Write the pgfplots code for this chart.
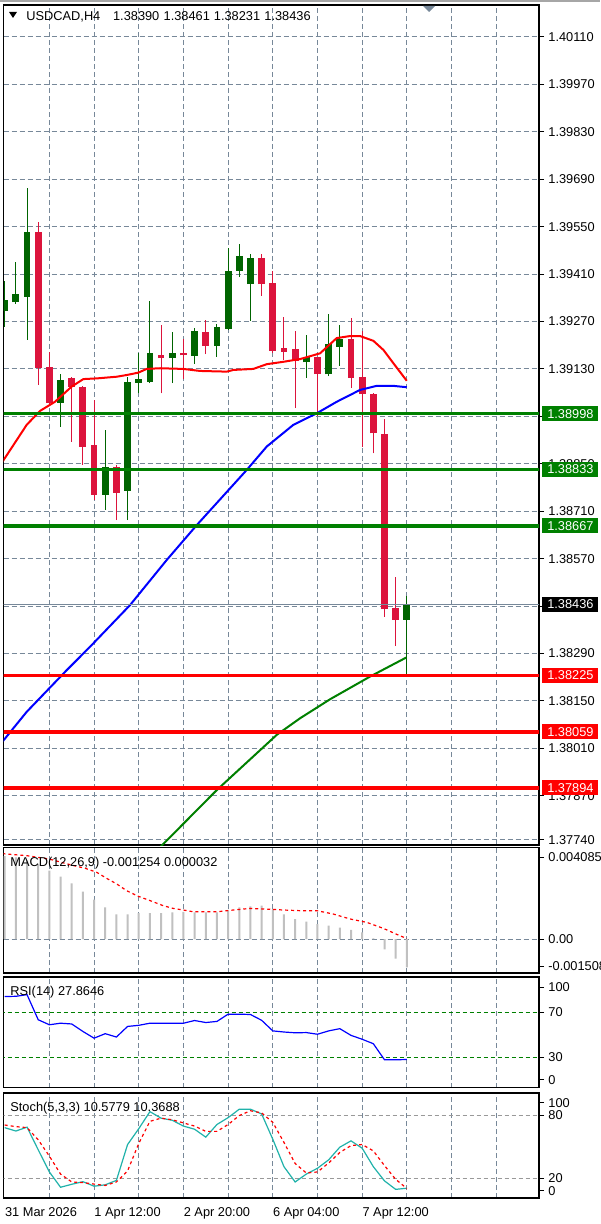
\documentclass[border=0pt]{standalone}
\usepackage{fontspec}
\setmainfont{Liberation Sans}
\usepackage{pgfplots}
\usepackage{pgfplotstable}
\pgfplotsset{compat=1.18}

\newcommand{\mtfont}{\fontsize{6.4pt}{7.6pt}\selectfont}

\definecolor{mtgrid}{RGB}{119,136,153}
\definecolor{bull}{RGB}{0,100,0}
\definecolor{bear}{RGB}{220,20,60}
\definecolor{lvlgreen}{RGB}{0,128,0}
\definecolor{histo}{RGB}{192,192,192}
\definecolor{stochmain}{RGB}{32,178,170}

% candles: bar index, open, high, low, close
\pgfplotstableread{
i o h l c
0 1.39302 1.39388 1.39255 1.39334
1 1.39327 1.39445 1.39322 1.39350
2 1.39343 1.39663 1.39216 1.39535
5 1.39030 1.39115 1.38960 1.39097
9 1.38758 1.38950 1.38714 1.38842
11 1.38771 1.39107 1.38684 1.39090
12 1.39088 1.39176 1.39058 1.39100
13 1.39091 1.39329 1.39088 1.39176
15 1.39162 1.39240 1.39088 1.39176
17 1.39169 1.39250 1.39145 1.39242
19 1.39199 1.39263 1.39166 1.39255
20 1.39248 1.39488 1.39245 1.39420
21 1.39420 1.39499 1.39401 1.39462
22 1.39380 1.39469 1.39272 1.39457
27 1.39149 1.39230 1.39104 1.39166
29 1.39114 1.39292 1.39109 1.39203
30 1.39196 1.39260 1.39140 1.39219
36 1.38390 1.38461 1.38231 1.38436
}\bulls

\pgfplotstableread{
i o h l c
3 1.39535 1.39565 1.39083 1.39132
4 1.39137 1.39181 1.39025 1.39030
6 1.39102 1.39107 1.38915 1.39078
7 1.39078 1.39080 1.38847 1.38901
8 1.38906 1.39038 1.38743 1.38758
10 1.38842 1.38845 1.38684 1.38765
14 1.39171 1.39260 1.39058 1.39162
16 1.39177 1.39218 1.39100 1.39170
18 1.39238 1.39275 1.39174 1.39199
23 1.39457 1.39469 1.39346 1.39380
24 1.39383 1.39420 1.39176 1.39184
25 1.39193 1.39284 1.39157 1.39181
26 1.39189 1.39242 1.39014 1.39154
28 1.39164 1.39166 1.38991 1.39115
31 1.39219 1.39280 1.39075 1.39104
32 1.39107 1.39242 1.38899 1.39055
33 1.39056 1.39060 1.38881 1.38940
34 1.38938 1.38981 1.38399 1.38421
35 1.38424 1.38517 1.38312 1.38390
}\bears

% moving averages
\pgfplotstableread{
i p
-0.2 1.38856
1.97 1.38965
3.16 1.39006
4.50 1.39033
6.00 1.39078
7.04 1.39100
8.24 1.39102
10.03 1.39107
10.92 1.39112
11.96 1.39119
12.71 1.39130
13.90 1.39132
15.99 1.39130
17.48 1.39124
19.87 1.39122
20.47 1.39127
22.26 1.39130
23.46 1.39144
24.94 1.39151
26.44 1.39159
28.23 1.39176
29.72 1.39221
30.91 1.39227
31.81 1.39227
33.00 1.39213
33.90 1.39186
34.79 1.39147
35.99 1.39095
}\maRed

\pgfplotstableread{
i p
-0.2 1.38030
1.97 1.38118
5.55 1.38241
7.64 1.38310
11.22 1.38433
14.50 1.38566
17.19 1.38669
21.67 1.38832
23.46 1.38901
25.84 1.38965
27.93 1.38999
29.72 1.39033
31.81 1.39068
33.30 1.39080
34.79 1.39080
35.99 1.39076
}\maBlue

\pgfplotstableread{
i p
13.01 1.37690
14.20 1.37728
18.98 1.37887
24.35 1.38050
26.44 1.38099
29.12 1.38155
32.70 1.38222
35.93 1.38278
}\maGreen

% indicators per bar: MACD main, RSI, stochastic main and signal
\pgfplotstableread{
i m rsi k d
0 0.00370 84.3 68.0 70.5
1 0.00365 84.5 64.8 69.0
2 0.00350 86.0 68.5 68.0
3 0.00335 63.5 47.0 56.5
4 0.00306 59.0 26.0 41.0
5 0.00279 60.4 11.5 24.0
6 0.00249 59.7 14.3 16.5
7 0.00212 53.0 16.8 15.9
8 0.00176 47.0 12.5 14.5
9 0.00142 51.0 13.8 13.2
10 0.00110 48.0 18.0 16.5
11 0.00110 57.5 52.0 27.0
12 0.00116 58.5 67.0 53.0
13 0.00116 60.4 83.2 74.0
14 0.00116 60.4 77.0 77.0
15 0.00119 60.4 75.0 75.5
16 0.00122 60.4 69.5 72.5
17 0.00119 62.8 66.5 69.5
18 0.00119 61.0 59.0 64.5
19 0.00119 62.0 71.0 64.5
20 0.00127 68.5 77.5 71.0
21 0.00142 68.5 85.5 79.5
22 0.00146 68.2 85.5 84.0
23 0.00149 63.0 81.0 82.0
24 0.00134 53.5 57.0 73.0
25 0.00110 52.5 31.0 54.0
26 0.00089 51.8 16.5 34.0
27 0.00078 52.0 24.0 25.0
28 0.00067 50.5 29.5 26.0
29 0.00060 53.5 37.5 34.5
30 0.00052 55.5 49.5 44.5
31 0.00042 49.5 55.5 51.0
32 0.00030 46.0 48.5 52.0
33 0.00004 42.0 31.0 46.0
34 -0.00045 27.6 17.5 32.0
35 -0.00087 27.6 9.5 19.0
36 -0.001254 27.86 10.58 10.37
}\osc

\pgfplotstableread{
i s
-0.2 0.00381
2 0.00372
4 0.00357
6 0.00330
7.19 0.00316
8.24 0.00298
9.13 0.00271
10.03 0.00246
10.92 0.00216
11.96 0.00191
13.01 0.00172
14.20 0.00149
15.09 0.00137
15.99 0.00130
16.88 0.00122
18.98 0.00122
20.47 0.00130
21.96 0.00137
23.46 0.00134
24.94 0.00130
26.44 0.00127
27.93 0.00127
29.42 0.00112
30.91 0.00090
32.41 0.00075
33.90 0.00048
35.39 0.00015
36 0.000032
}\macdSig

\pgfplotsset{
  mtpanel/.style={
    scale only axis, anchor=north west,
    width=267.75pt,
    xmin=-0.107, xmax=47.83,
    axis line style={black, line width=0.6pt},
    xtick={4,8,...,44}, xticklabels={},
    xmajorgrids, ymajorgrids,
    major grid style={mtgrid, line width=0.5pt, dash pattern=on 2.5pt off 1.5pt},
    xtick style={draw=none},
    ytick pos=right, yticklabel pos=right,
    ytick style={black, line width=0.5pt},
    tick align=outside, major tick length=2.5pt,
    yticklabel style={font=\mtfont, anchor=west, inner sep=0pt, xshift=2pt},
    scaled y ticks=false,
  },
  candle/.style 2 args={draw=none, mark=none, error bars/.cd, y dir=plus, y explicit,
    error mark=none, error bar style={line width=#1, draw=#2}},
}
\tikzset{pbox/.style={anchor=west, font=\mtfont, text=white, inner xsep=2pt,
    inner ysep=0pt, minimum height=7.5pt, minimum width=28pt}}

\begin{document}
\begin{tikzpicture}
\path[use as bounding box] (0pt,0pt) rectangle (300pt,-612pt);
\fill[white] (0pt,0pt) rectangle (300pt,-612pt);
\fill[black!35] (0pt,0pt) rectangle (300pt,-0.9pt);

% ---- price panel
\begin{axis}[mtpanel, at={(1.75pt,-2.5pt)}, height=420pt,
  ymin=1.37725, ymax=1.40204,
  ytick={1.3774,1.3787,1.3801,1.3815,1.3829,1.3843,1.3857,1.3871,1.3885,1.3899,1.3913,1.3927,1.3941,1.3955,1.3969,1.3983,1.3997,1.4011},
  yticklabels={1.37740,1.37870,1.38010,1.38150,1.38290,1.38430,1.38570,1.38710,1.38850,1.38990,1.39130,1.39270,1.39410,1.39550,1.39690,1.39830,1.39970,1.40110},
]
% wicks
\addplot[candle={0.5pt}{bull}]
  table[x=i, y=l, y error expr=\thisrow{h}-\thisrow{l}] {\bulls};
\addplot[candle={0.5pt}{bear}]
  table[x=i, y=l, y error expr=\thisrow{h}-\thisrow{l}] {\bears};
% bodies
\addplot[candle={3.4pt}{bull}]
  table[x=i, y=o, y error expr=\thisrow{c}-\thisrow{o}] {\bulls};
\addplot[candle={3.4pt}{bear}]
  table[x=i, y=c, y error expr=\thisrow{o}-\thisrow{c}] {\bears};
% moving averages
\addplot[red, line width=1pt] table[x=i, y=p] {\maRed};
\addplot[blue, line width=1pt] table[x=i, y=p] {\maBlue};
\addplot[lvlgreen, line width=1pt] table[x=i, y=p] {\maGreen};
% levels
\addplot[mtgrid, line width=0.5pt] coordinates {(-1,1.38436) (49,1.38436)};
\addplot[lvlgreen, line width=1.8pt] coordinates {(-1,1.38998) (49,1.38998)};
\addplot[lvlgreen, line width=1.8pt] coordinates {(-1,1.38833) (49,1.38833)};
\addplot[lvlgreen, line width=1.8pt] coordinates {(-1,1.38667) (49,1.38667)};
\addplot[red, line width=1.8pt] coordinates {(-1,1.38225) (49,1.38225)};
\addplot[red, line width=1.8pt] coordinates {(-1,1.38059) (49,1.38059)};
\addplot[red, line width=1.8pt] coordinates {(-1,1.37894) (49,1.37894)};
\coordinate (g1) at (axis cs:47.83,1.38998);
\coordinate (g2) at (axis cs:47.83,1.38833);
\coordinate (g3) at (axis cs:47.83,1.38667);
\coordinate (bk) at (axis cs:47.83,1.38436);
\coordinate (r1) at (axis cs:47.83,1.38225);
\coordinate (r2) at (axis cs:47.83,1.38059);
\coordinate (r3) at (axis cs:47.83,1.37894);
\end{axis}

\node[pbox, fill=lvlgreen] at ([xshift=1.5pt]g1) {1.38998};
\node[pbox, fill=lvlgreen] at ([xshift=1.5pt]g2) {1.38833};
\node[pbox, fill=lvlgreen] at ([xshift=1.5pt]g3) {1.38667};
\node[pbox, fill=black] at ([xshift=1.5pt]bk) {1.38436};
\node[pbox, fill=red] at ([xshift=1.5pt]r1) {1.38225};
\node[pbox, fill=red] at ([xshift=1.5pt]r2) {1.38059};
\node[pbox, fill=red] at ([xshift=1.5pt]r3) {1.37894};

% ---- MACD panel
\begin{axis}[mtpanel, at={(1.75pt,-423.75pt)}, height=62.75pt,
  ymin=-0.001508, ymax=0.004085,
  ytick={0}, yticklabels={0.00},
  extra y ticks={-0.001196,0.003662}, extra y tick labels={-0.001508,0.004085},
  extra y tick style={grid=none},
]
\addplot[ybar, bar width=1pt, bar shift=0pt, fill=histo, draw=none] table[x=i, y=m] {\osc};
\addplot[red, line width=0.6pt, dash pattern=on 1.5pt off 1.5pt] table[x=i, y=s] {\macdSig};
\end{axis}

% ---- RSI panel
\begin{axis}[mtpanel, at={(1.75pt,-488.5pt)}, height=55.4pt,
  ymin=2.5, ymax=101.8, ymajorgrids=false,
  ytick={30,70}, yticklabels={30,70},
  extra y ticks={9.7,92.8}, extra y tick labels={0,100},
  extra y tick style={grid=none},
]
\addplot[lvlgreen, line width=0.5pt, dash pattern=on 2pt off 1.5pt] coordinates {(-1,70) (49,70)};
\addplot[lvlgreen, line width=0.5pt, dash pattern=on 2pt off 1.5pt] coordinates {(-1,30) (49,30)};
\addplot[blue, line width=0.6pt] table[x=i, y=rsi] {\osc};
\end{axis}

% ---- Stochastic panel
\begin{axis}[mtpanel, at={(1.75pt,-546.5pt)}, height=52.5pt,
  ymin=1.3, ymax=100.85, ymajorgrids=false,
  ytick={20,80}, yticklabels={20,80},
  extra y ticks={8,91.4}, extra y tick labels={0,100},
  extra y tick style={grid=none},
  xticklabels={,1 Apr 12:00,,2 Apr 20:00,,6 Apr 04:00,,7 Apr 12:00,,,},
  extra x ticks={0}, extra x tick labels={31 Mar 2026},
  extra x tick style={grid=none},
  xticklabel style={font=\mtfont, anchor=north west, inner sep=0pt, yshift=-2.2pt},
]
\addplot[black!40, line width=0.5pt, dash pattern=on 2pt off 1.5pt] coordinates {(-1,80) (49,80)};
\addplot[black!40, line width=0.5pt, dash pattern=on 2pt off 1.5pt] coordinates {(-1,20) (49,20)};
\addplot[stochmain, line width=0.6pt] table[x=i, y=k] {\osc};
\addplot[red, line width=0.6pt, dash pattern=on 1.5pt off 1.5pt] table[x=i, y=d] {\osc};
\end{axis}

% ---- panel captions (pixel coordinates)
\begin{scope}[x=0.5pt, y=-0.5pt]
\fill[black] (9,12) -- (17,12) -- (13,18) -- cycle;
\fill[mtgrid] (423,6) -- (435,6) -- (429,12) -- cycle;
\node[anchor=base west, inner sep=0pt, font=\mtfont] at (26,20.7) {USDCAD,H4};
\node[anchor=base west, inner sep=0pt, font=\mtfont] at (112.7,20.7) {1.38390};
\node[anchor=base west, inner sep=0pt, font=\mtfont] at (163.3,20.7) {1.38461};
\node[anchor=base west, inner sep=0pt, font=\mtfont] at (213.5,20.7) {1.38231};
\node[anchor=base west, inner sep=0pt, font=\mtfont] at (264,20.7) {1.38436};
\node[anchor=base west, inner sep=0pt, font=\mtfont] at (10,866) {MACD(12,26,9) -0.001254 0.000032};
\node[anchor=base west, inner sep=0pt, font=\mtfont] at (10,995) {RSI(14) 27.8646};
\node[anchor=base west, inner sep=0pt, font=\mtfont] at (10,1111.5) {Stoch(5,3,3) 10.5779 10.3688};
\end{scope}
\end{tikzpicture}
\end{document}
